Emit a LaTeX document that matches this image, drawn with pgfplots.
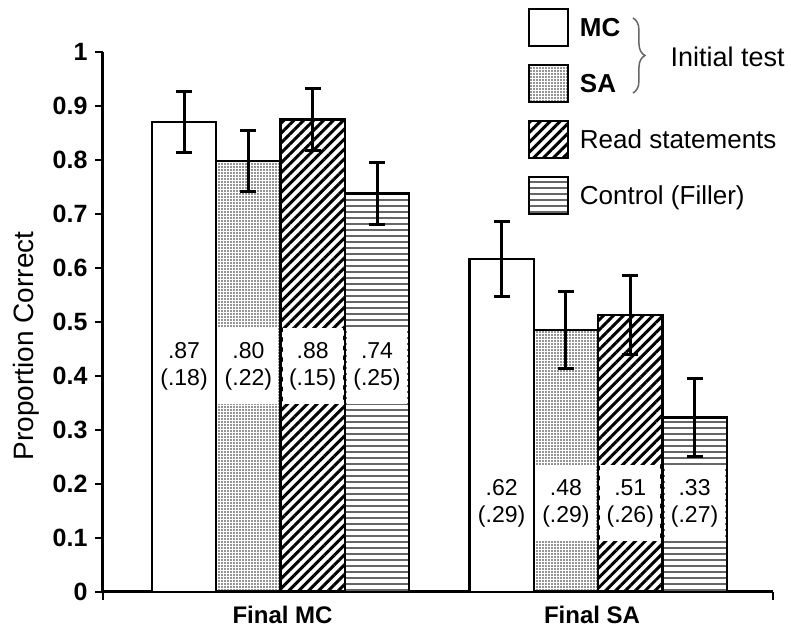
\documentclass[border=0pt]{standalone}
\usepackage{fontspec}
\setmainfont{Liberation Sans}
\usepackage{pgfplots}
\pgfplotsset{compat=1.18}
\usetikzlibrary{patterns.meta, decorations.pathreplacing}

% bar fills
\tikzset{
  mcbar/.style={fill=white},
  sabar/.style={pattern={Dots[distance=3pt, radius=0.85pt]}, pattern color=black!85},
  readbar/.style={pattern={Lines[angle=45, distance=7pt, line width=3pt]}, pattern color=black},
  ctrlbar/.style={pattern={Lines[angle=0, distance=6pt, line width=1.4pt]}, pattern color=black!60},
}
\pgfplotsset{
  barbase/.style={ybar, bar width=0.192, bar shift=0pt, draw=black, line width=2.5pt},
  errstyle/.style={error bars/.cd, y dir=both, y explicit,
    error bar style={line width=3pt, black},
    error mark options={black, line width=3pt, mark size=8pt, rotate=90}},
}

\begin{document}
\begin{tikzpicture}
\begin{axis}[
  scale only axis, width=670pt, height=540pt,
  xmin=0, xmax=2, ymin=0, ymax=1,
  axis lines*=left,
  axis line style={line width=3pt, black},
  clip=false,
  tick align=outside,
  major tick length=8pt,
  tick style={line width=2.5pt, black},
  ytick={0,0.1,0.2,0.3,0.4,0.5,0.6,0.7,0.8,0.9,1},
  yticklabel style={/pgf/number format/fixed, /pgf/number format/precision=1,
    font=\bfseries\fontsize{25}{25}\selectfont, xshift=-4pt},
  xtick={0,2}, xticklabels={},
  extra x ticks={0.536,1.46},
  extra x tick labels={Final MC, Final SA},
  extra x tick style={major tick length=0pt},
  xticklabel style={font=\bfseries\fontsize{24}{24}\selectfont, yshift=-11pt},
  /pgf/number format/assume math mode=true,
  ylabel={Proportion Correct},
  ylabel style={font=\fontsize{28}{28}\selectfont, at={(axis description cs:-0.114,0.456)}, anchor=center},
  legend style={draw=none, fill=none, at={(0.634,1.081)}, anchor=north west,
    inner sep=0pt, row sep=17pt, font=\fontsize{26}{26}\selectfont, cells={anchor=west}},
  legend image code/.code={\draw[#1, /tikz/.cd, line width=2pt] (0pt,-18.5pt) rectangle (39pt,18.5pt);
    \path[draw=none, fill=none, pattern=none] (0pt,0pt) -- (49pt,0pt);},
]
\addplot[barbase, mcbar, errstyle] coordinates {(0.242,0.870) +- (0,0.056) (1.190,0.617) +- (0,0.070)};
\addlegendentry{\textbf{MC}}
\addplot[barbase, sabar, errstyle] coordinates {(0.434,0.798) +- (0,0.057) (1.382,0.485) +- (0,0.071)};
\addlegendentry{\textbf{SA}}
\addplot[barbase, readbar, errstyle] coordinates {(0.626,0.875) +- (0,0.058) (1.574,0.513) +- (0,0.073)};
\addlegendentry{Read statements}
\addplot[barbase, ctrlbar, errstyle] coordinates {(0.818,0.738) +- (0,0.057) (1.766,0.323) +- (0,0.073)};
\addlegendentry{Control (Filler)}

% value labels
\begin{scope}[every node/.style={fill=white, inner sep=0pt, minimum width=60pt, minimum height=76pt,
    align=center, font=\fontsize{23}{27}\selectfont}]
\node at (axis cs:0.242,0.418) {.87\\(.18)};
\node at (axis cs:0.434,0.418) {.80\\(.22)};
\node at (axis cs:0.626,0.418) {.88\\(.15)};
\node at (axis cs:0.818,0.418) {.74\\(.25)};
\node at (axis cs:1.190,0.164) {.62\\(.29)};
\node at (axis cs:1.382,0.164) {.48\\(.29)};
\node at (axis cs:1.574,0.164) {.51\\(.26)};
\node at (axis cs:1.766,0.164) {.33\\(.27)};
\end{scope}

% brace for initial test
\draw[decorate, decoration={brace, amplitude=12pt}, line width=1.5pt, black!60]
  (axis cs:1.582,1.063) -- (axis cs:1.582,0.924);
\node[anchor=west, font=\fontsize{27}{27}\selectfont] at (axis cs:1.684,0.991) {Initial test};

\coordinate (bbsw) at (rel axis cs:-0.1537,-0.0741);
\coordinate (bbne) at (rel axis cs:1.0269,1.0963);
\end{axis}
\path (bbsw) rectangle (bbne);
\end{tikzpicture}
\end{document}
